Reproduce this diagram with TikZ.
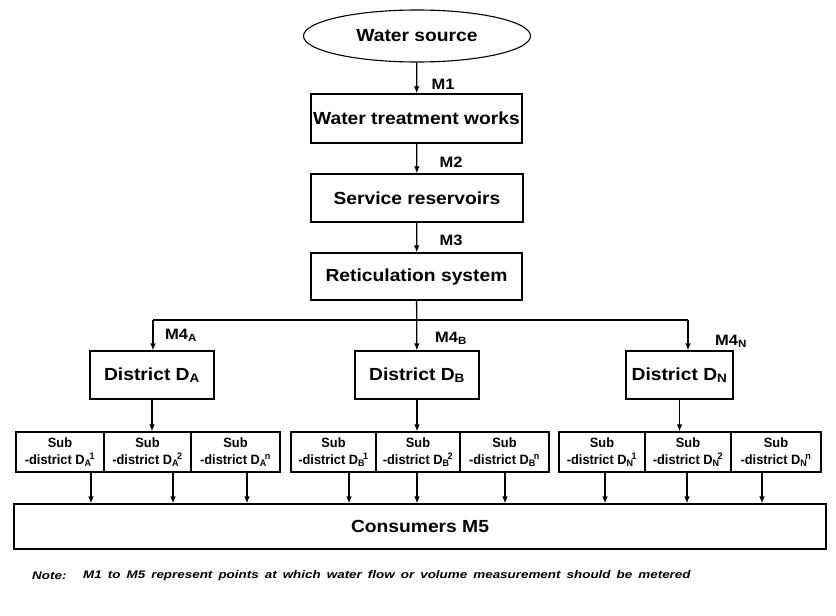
\documentclass[tikz,border=0pt]{standalone}
\usepackage{fontspec}
\setmainfont{Liberation Sans}
\newfontfamily\widefont[FakeStretch=1.10]{Liberation Sans}
\newfontfamily\narrowfont[FakeStretch=0.95]{Liberation Sans}
\newfontfamily\notefont[FakeStretch=1.22]{Liberation Sans}
\usetikzlibrary{arrows.meta,shapes.geometric}
% subscript and superscript set close together, as in D_A^1
\newcommand\dsubsup[2]{\textsubscript{#1}\kern-0.15em\textsuperscript{#2}}
% footnote type: wide bold italic with generous word spaces
\newcommand\notesetup{\notefont\fontsize{11}{13}\selectfont\bfseries\itshape\spaceskip=0.55em plus 0.1em\relax}
\tikzset{
  box/.style={draw, line width=1.1pt, rectangle, inner sep=0pt, align=center,
    font=\widefont\fontsize{17.5}{20}\selectfont\bfseries},
  subbox/.style={draw, line width=1.1pt, rectangle, inner sep=0pt, align=center,
    minimum height=40pt, font=\narrowfont\fontsize{13.5}{17}\selectfont\bfseries},
  arr/.style={-{Latex[length=7pt,width=5.5pt]}, line width=1.3pt},
  link/.style={line width=1.3pt},
  mlab/.style={font=\widefont\fontsize{15}{17}\selectfont\bfseries, inner sep=0pt},
  notestyle/.style={anchor=west, inner sep=0pt, font=\notesetup}
}
\begin{document}
\begin{tikzpicture}[x=1pt,y=-1pt]
\useasboundingbox (0,0) rectangle (836,616);

% main chain
\node[ellipse, draw, line width=1.1pt, minimum width=227pt, minimum height=52pt, inner sep=0pt,
  font=\widefont\fontsize{17.5}{20}\selectfont\bfseries] (src) at (417,36) {Water source};
\node[box, minimum width=211pt, minimum height=49pt] (wtw) at (416.5,118.5) {Water treatment works};
\node[box, minimum width=212pt, minimum height=48pt] (res) at (417,198) {Service reservoirs};
\node[box, minimum width=211pt, minimum height=47pt] (ret) at (416.5,276.5) {Reticulation system};

\draw[arr] (src) -- (wtw);
\draw[arr] (wtw) -- (res);
\draw[arr] (res) -- (ret);
\node[mlab] (m1) at (443,84) {M1};
\node[mlab] (m2) at (451,162) {M2};
\node[mlab] (m3) at (451,240) {M3};

% districts
\node[box, minimum width=124pt, minimum height=48pt] (da) at (152,375) {District D\textsubscript{A}};
\node[box, minimum width=124pt, minimum height=48pt] (db) at (417,375) {District D\textsubscript{B}};
\node[box, minimum width=107pt, minimum height=48pt] (dn) at (679.5,375) {District D\textsubscript{N}};

\coordinate (busL) at (153,320);
\coordinate (busR) at (688,320);
\draw[link] (busL) -- (busR);
\draw[arr] (ret) -- (db);
\draw[arr] (busL) -- (busL |- da.north);
\draw[arr] (busR) -- (busR |- dn.north);
\node[mlab] (m4a) at (181,335) {M4\textsubscript{A}};
\node[mlab] (m4b) at (451,338) {M4\textsubscript{B}};
\node[mlab] (m4n) at (731,341) {M4\textsubscript{N}};

% sub-districts
\node[subbox, minimum width=88pt] (sa1) at (60,452) {Sub\\-district D\dsubsup{A}{1}};
\node[subbox, minimum width=87pt] (sa2) at (147.5,452) {Sub\\-district D\dsubsup{A}{2}};
\node[subbox, minimum width=89pt] (sa3) at (235.5,452) {Sub\\-district D\dsubsup{A}{n}};
\node[subbox, minimum width=85pt] (sb1) at (333.5,452) {Sub\\-district D\dsubsup{B}{1}};
\node[subbox, minimum width=84pt] (sb2) at (418,452) {Sub\\-district D\dsubsup{B}{2}};
\node[subbox, minimum width=89pt] (sb3) at (504.5,452) {Sub\\-district D\dsubsup{B}{n}};
\node[subbox, minimum width=86pt] (sn1) at (602,452) {Sub\\-district D\dsubsup{N}{1}};
\node[subbox, minimum width=86pt] (sn2) at (688,452) {Sub\\-district D\dsubsup{N}{2}};
\node[subbox, minimum width=90pt] (sn3) at (776,452) {Sub\\-district D\dsubsup{N}{n}};

\draw[arr] (da.south) -- (da.south |- sa2.north);
\draw[arr] (db.south) -- (db.south |- sb2.north);
\draw[arr] (dn.south) -- (dn.south |- sn2.north);

% consumers
\node[box, minimum width=812pt, minimum height=45pt] (cons) at (420,526.5) {Consumers M5};

\coordinate (xa1) at (91,0);
\coordinate (xa2) at (173,0);
\coordinate (xa3) at (247,0);
\coordinate (xb1) at (349,0);
\coordinate (xb2) at (417,0);
\coordinate (xb3) at (505,0);
\coordinate (xn1) at (605,0);
\coordinate (xn2) at (687,0);
\coordinate (xn3) at (762,0);
\foreach \s/\x in {sa1/xa1, sa2/xa2, sa3/xa3, sb1/xb1, sb2/xb2, sb3/xb3, sn1/xn1, sn2/xn2, sn3/xn3}
  \draw[arr] (\s.south -| \x) -- (cons.north -| \x);

% footnote
\node[notestyle] (notehead) at (32,576) {Note:};
\node[notestyle] (notetext) at (83,576)
  {M1 to M5 represent points at which water flow or volume measurement should be metered};
\end{tikzpicture}
\end{document}
